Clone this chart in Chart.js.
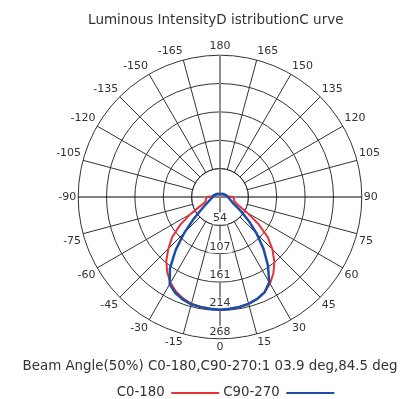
<!DOCTYPE html>
<html><head><meta charset="utf-8">
<script src="https://cdn.jsdelivr.net/npm/chart.js@4/dist/chart.umd.min.js"></script>
<style>html,body{margin:0;padding:0;background:#fff}#wrap{width:410px;height:399px;position:relative}</style>
</head><body><div id="wrap"><canvas id="c"></canvas></div>
<script>
// Angle categories (degrees), clockwise from the top of the polar plot
const angleLabels = [180,175,170,165,160,155,150,145,140,135,130,125,120,115,110,105,100,95,90,85,80,75,70,65,60,55,50,45,40,35,30,25,20,15,10,5,0,-5,-10,-15,-20,-25,-30,-35,-40,-45,-50,-55,-60,-65,-70,-75,-80,-85,-90,-95,-100,-105,-110,-115,-120,-125,-130,-135,-140,-145,-150,-155,-160,-165,-170,-175];
// C0-180 intensity (cd) at each angle
const c0_180 = [6,6,6,6,6,6,6,7,7,8,8,9,9,10,11,12,13,14,24,26,27,28,31,40,60,88,118,140,160,176,189,199,205,209,211,212,213,212,211,209,204,197,187,174,158,138,118,92,64,42,31,28,27,26,24,14,13,12,11,10,9,9,8,8,7,7,6,6,6,6,6,6];
// C90-270 intensity (cd) at each angle
const c90_270 = [6,6,6,6,6,6,6,7,7,8,8,9,9,10,11,12,13,13,15,16,18,20,23,27,36,50,72,98,128,158,186,199,205,209,211,212,213,212,211,210,206,200,190,165,130,95,66,46,34,27,22,19,17,15,14,13,13,12,11,10,9,9,8,8,7,7,6,6,6,6,6,6];
// radial ticks
const radialTicks = [53.6,107.2,160.8,214.4,268];
const radialTickLabels = ['54','107','161','214','268'];
const seriesNames = ['C0-180','C90-270'];
const titleText = 'Luminous IntensityD istributionC urve';
const beamText = 'Beam Angle(50%) C0-180,C90-270:1 03.9 deg,84.5 deg';

const RED = '#e8323a', BLUE = '#1d4fa8', GRID = '#333333', TXT = '#333333', AXISV = '#8c8c8c';
Chart.defaults.font.family = '"DejaVu Sans", Verdana, sans-serif';

const innerPlugin = {
  id: 'inner',
  beforeDatasetsDraw(chart) {
    const s = chart.scales.r, ctx = chart.ctx;
    const xc = s.xCenter, yc = s.yCenter;
    const r1 = s.getDistanceFromCenterForValue(radialTicks[0]);
    ctx.save();
    ctx.beginPath(); ctx.arc(xc, yc, r1 - 0.6, 0, Math.PI * 2); ctx.fillStyle = '#fff'; ctx.fill();
    ctx.lineWidth = 1;
    ctx.beginPath(); ctx.arc(xc, yc, r1, 0, Math.PI * 2); ctx.strokeStyle = GRID; ctx.stroke();
    ctx.beginPath(); ctx.moveTo(xc - r1, yc); ctx.lineTo(xc + r1, yc); ctx.strokeStyle = '#000'; ctx.stroke();
    ctx.lineWidth = 2;
    ctx.beginPath(); ctx.moveTo(xc, yc - r1); ctx.lineTo(xc, yc + r1); ctx.strokeStyle = AXISV; ctx.stroke();
    ctx.font = '11px "DejaVu Sans"'; ctx.textAlign = 'center'; ctx.textBaseline = 'middle';
    radialTicks.forEach((v, i) => {
      const d = s.getDistanceFromCenterForValue(v);
      const y = yc + d - 7;
      const w = ctx.measureText(radialTickLabels[i]).width;
      ctx.fillStyle = '#fff'; ctx.fillRect(xc - w / 2 - 1, y - 6, w + 2, 12);
      ctx.fillStyle = TXT; ctx.fillText(radialTickLabels[i], xc, y);
    });
    ctx.restore();
  }
};

// small horizontal nudges of the text blocks after layout
const nudgePlugin = {
  id: 'nudge',
  afterLayout(chart) {
    chart.boxes.forEach((b) => {
      let d = 0;
      if (b === chart.legend) d = 5.5;
      else if (b.options && b.options.text === titleText) d = -4.2;
      else if (b.options && b.options.text === beamText) d = -10;
      if (d) { b.left += d; b.right += d; }
    });
  }
};

new Chart(document.getElementById('c'), {
  type: 'radar',
  data: {
    labels: angleLabels,
    datasets: [
      {label: seriesNames[0], data: c0_180, borderColor: RED, backgroundColor: RED, borderWidth: 2, pointRadius: 0, fill: false, order: 2},
      {label: seriesNames[1], data: c90_270, borderColor: BLUE, backgroundColor: BLUE, borderWidth: 2.5, pointRadius: 0, fill: false, order: 1}
    ]
  },
  options: {
    responsive: true, maintainAspectRatio: false, animation: false,
    layout: {padding: {left: 30, right: 0, top: 0, bottom: -10.65}},
    elements: {line: {tension: 0}},
    scales: {
      r: {
        min: 0, max: 268,
        ticks: {display: false, stepSize: 53.6},
        grid: {circular: true, color: GRID, lineWidth: 1},
        angleLines: {
          lineWidth: (c) => { const a = angleLabels[c.index]; return a % 15 !== 0 ? 0 : ((a === 0 || a === 180) ? 2 : 1); },
          color: (c) => { const a = angleLabels[c.index]; return (a === 0 || a === 180) ? AXISV : (Math.abs(a) === 90 ? '#000' : GRID); }
        },
        pointLabels: {
          font: {size: 11}, color: TXT, padding: 2,
          callback: (label) => (label % 15 === 0 ? String(label) : '')
        }
      }
    },
    plugins: {
      title: {display: true, text: titleText, color: TXT, font: {size: 13.5, weight: 'normal'}, padding: {top: 12, bottom: 11.8}},
      subtitle: {display: true, position: 'bottom', text: beamText, color: TXT, font: {size: 13.4}, padding: {top: 2.9, bottom: 8.25}, weight: 1500},
      legend: {
        position: 'bottom', weight: 2000, rtl: true, textDirection: 'ltr',
        labels: {
          boxWidth: 48, boxHeight: 2, color: TXT, font: {size: 13.3}, padding: 4,
          generateLabels: (chart) => chart.data.datasets.map((d, i) => ({
            text: d.label, fillStyle: d.borderColor, strokeStyle: d.borderColor, lineWidth: 0,
            hidden: false, datasetIndex: i, fontColor: TXT
          })).reverse()
        }
      },
      tooltip: {enabled: false}
    }
  },
  plugins: [innerPlugin, nudgePlugin]
});
</script></body></html>
